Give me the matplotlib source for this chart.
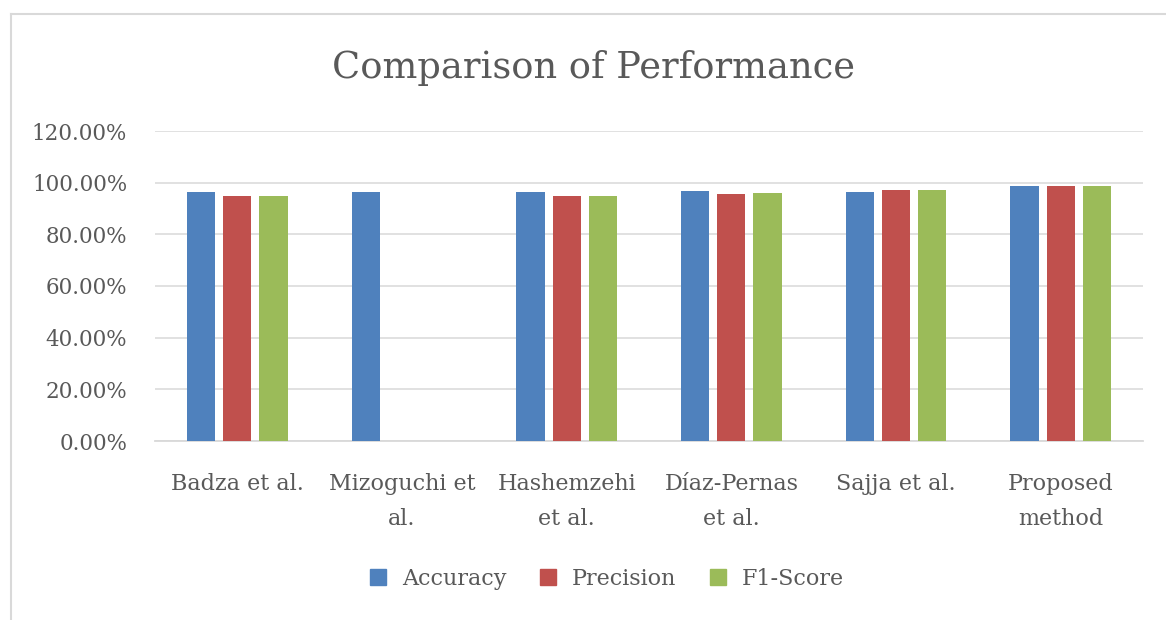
import numpy as np
import matplotlib
matplotlib.use("Agg")
import matplotlib.pyplot as plt
from matplotlib.lines import Line2D
from matplotlib.ticker import FuncFormatter

categories = ["Badza et al.", "Mizoguchi et\nal.", "Hashemzehi\net al.",
              "Díaz-Pernas\net al.", "Sajja et al.", "Proposed\nmethod"]
series_names = ["Accuracy", "Precision", "F1-Score"]
accuracy = [96.3, 96.3, 96.3, 96.9, 96.3, 98.7]
precision = [94.7, np.nan, 94.7, 95.5, 97.0, 98.7]
f1_score = [94.7, np.nan, 94.7, 96.1, 97.0, 98.7]
y_ticks = [0, 20, 40, 60, 80, 100, 120]

colors = ["#4F81BD", "#C0504D", "#9BBB59"]
text_color = "#595959"
font = "DejaVu Serif"

fig = plt.figure(figsize=(11.66, 6.2), dpi=100)
ax = fig.add_axes([155/1166, 1 - 441/620, (1143 - 155)/1166, 310/620])

x = np.arange(len(categories))
width = 0.172
step = 0.22
for i, (vals, name, c) in enumerate(zip([accuracy, precision, f1_score], series_names, colors)):
    v = np.array(vals, dtype=float)
    mask = ~np.isnan(v)
    ax.bar(x[mask] + (i - 1) * step, v[mask], width=width, color=c, label=name, zorder=3)

ax.set_xlim(-0.5, len(categories) - 0.5)
ax.set_ylim(0, 120)
ax.set_yticks(y_ticks)
ax.yaxis.set_major_formatter(FuncFormatter(lambda v, p: f"{v:.2f}%"))
ax.grid(axis="y", color="#D9D9D9", linewidth=1.1, zorder=0)
for s in ["top", "right", "left"]:
    ax.spines[s].set_visible(False)
ax.spines["bottom"].set_color("#D9D9D9")
ax.spines["bottom"].set_linewidth(1.3)
ax.tick_params(axis="both", length=0, colors=text_color)
ax.tick_params(axis="y", pad=20, labelsize=15.5)
ax.tick_params(axis="x", pad=23, labelsize=16)
ax.set_xticks(x)
ax.set_xticklabels(categories, fontfamily=font, linespacing=1.75)
for lab in ax.get_yticklabels():
    lab.set_fontfamily(font)

fig.text(593/1166, 1 - 68/620, "Comparison of Performance", ha="center", va="center",
         fontsize=26.5, color=text_color, fontfamily=font)

handles = [Line2D([], [], marker="s", linestyle="none", markersize=12,
                  markerfacecolor=c, markeredgecolor=c) for c in colors]
fig.legend(handles, series_names, loc="center", bbox_to_anchor=(600/1166, 1 - 579/620),
           ncol=3, frameon=False, prop={"family": font, "size": 16},
           labelcolor=text_color, handletextpad=0.05, columnspacing=0.9)

# chart border (top and left visible)
fig.add_artist(Line2D([11/1166, 11/1166], [0, 1 - 14/620], transform=fig.transFigure,
                      color="#D9D9D9", linewidth=1.5))
fig.add_artist(Line2D([11/1166, 1], [1 - 14/620, 1 - 14/620], transform=fig.transFigure,
                      color="#D9D9D9", linewidth=1.5))

fig.savefig("out.png", dpi=100)
